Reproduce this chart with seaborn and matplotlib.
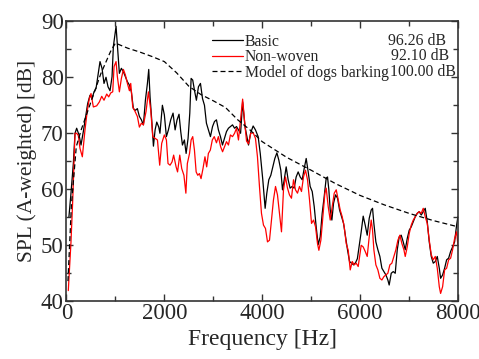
import numpy as np
import pandas as pd
import matplotlib
matplotlib.use("Agg")
import matplotlib.pyplot as plt
import matplotlib.font_manager as fm
import seaborn as sns
from matplotlib.ticker import MultipleLocator

# ---------------- data ----------------
basic_freq = [50, 90, 140, 174, 208, 256, 297, 344, 392, 433, 481, 522, 563, 604, 645, 685, 726, 767,
              808, 849, 890, 931, 958, 1013, 1047, 1081, 1122, 1163, 1204, 1245, 1286, 1326, 1367, 1408,
              1449, 1490, 1531, 1572, 1613, 1654, 1681, 1708, 1742, 1777, 1811, 1845, 1886, 1910, 1960,
              2000, 2042, 2083, 2130, 2178, 2220, 2260, 2300, 2335, 2370, 2410, 2445, 2485, 2520, 2547,
              2580, 2615, 2655, 2697, 2738, 2780, 2820, 2860, 2900, 2942, 2985, 3025, 3065, 3105, 3147,
              3188, 3230, 3270, 3310, 3350, 3393, 3435, 3475, 3515, 3558, 3600, 3650, 3720, 3765, 3815,
              3862, 3917, 3960, 4012, 4060, 4094, 4135, 4176, 4217, 4258, 4300, 4340, 4380, 4415, 4450,
              4490, 4530, 4570, 4612, 4653, 4694, 4735, 4776, 4817, 4858, 4899, 4940, 4980, 5022, 5063,
              5103, 5144, 5185, 5226, 5267, 5308, 5335, 5362, 5390, 5424, 5458, 5499, 5540, 5581, 5622,
              5663, 5704, 5745, 5785, 5826, 5867, 5908, 5945, 5982, 6023, 6064, 6105, 6146, 6187, 6228,
              6255, 6282, 6323, 6364, 6405, 6446, 6487, 6528, 6568, 6595, 6637, 6678, 6719, 6760, 6800,
              6841, 6882, 6923, 6964, 7005, 7046, 7087, 7128, 7169, 7209, 7250, 7291, 7332, 7373, 7414,
              7455, 7496, 7537, 7578, 7619, 7646, 7687, 7728, 7769, 7810, 7851, 7891, 7932, 7973, 8000]
basic_spl = [55.0, 59.0, 64.5, 69.9, 70.8, 69.6, 67.8, 70.2, 72.9, 75.2, 76.7, 76.1, 77.3, 77.9, 80.3,
             82.7, 81.5, 78.8, 79.9, 78.2, 77.5, 80.0, 85.4, 89.0, 84.8, 80.6, 81.5, 80.9, 80.0, 79.1,
             78.5, 77.3, 74.3, 74.0, 74.3, 72.9, 72.3, 71.4, 75.8, 78.8, 81.3, 76.4, 72.3, 67.6, 70.5,
             71.9, 71.0, 69.9, 74.9, 73.2, 69.3, 70.5, 72.3, 73.5, 70.5, 72.3, 73.3, 70.2, 67.8, 68.7,
             66.3, 69.0, 73.5, 79.7, 79.4, 77.6, 75.8, 78.2, 78.8, 76.1, 74.9, 71.7, 70.5, 69.3, 71.1,
             72.0, 72.3, 70.5, 69.3, 67.8, 69.0, 70.2, 70.8, 71.1, 71.4, 70.8, 71.1, 70.5, 69.9, 75.5,
             71.0, 67.8, 70.0, 71.2, 70.5, 69.3, 66.3, 61.6, 56.5, 59.2, 61.6, 62.4, 63.9, 65.4, 66.4,
             65.1, 63.3, 59.8, 61.6, 63.9, 61.6, 60.1, 60.4, 60.1, 62.1, 63.0, 62.1, 61.6, 63.6, 65.4,
             63.0, 60.4, 59.5, 56.8, 53.2, 50.0, 51.4, 55.6, 58.6, 61.9, 62.1, 59.8, 56.2, 54.4, 57.4,
             58.9, 58.3, 56.2, 55.0, 53.8, 51.4, 49.0, 47.0, 46.7, 46.4, 46.8, 47.5, 49.8, 52.3, 55.1,
             53.5, 51.7, 54.7, 56.2, 56.5, 53.8, 50.5, 49.1, 47.9, 45.8, 45.2, 44.6, 43.7, 42.8, 44.9,
             45.2, 44.9, 49.1, 51.4, 51.7, 50.5, 49.1, 51.1, 52.6, 53.2, 54.1, 55.0, 55.6, 55.9, 55.3,
             55.9, 56.5, 54.1, 50.5, 47.9, 46.7, 47.0, 47.9, 45.8, 44.0, 44.6, 45.8, 47.3, 47.6, 48.8,
             49.6, 50.5, 53.5, 55.0]

nonwoven_freq = [37, 92, 127, 174, 208, 242, 276, 324, 378, 426, 467, 501, 549, 617, 672, 720, 767, 822,
                 863, 904, 945, 972, 1013, 1040, 1081, 1122, 1163, 1204, 1245, 1286, 1313, 1354, 1401,
                 1449, 1490, 1531, 1572, 1626, 1674, 1722, 1763, 1811, 1859, 1905, 1946, 2000, 2042,
                 2075, 2117, 2158, 2190, 2240, 2270, 2315, 2355, 2400, 2440, 2470, 2515, 2547, 2580,
                 2615, 2650, 2683, 2717, 2750, 2790, 2830, 2865, 2900, 2940, 2980, 3020, 3065, 3105,
                 3150, 3190, 3230, 3270, 3310, 3350, 3393, 3435, 3475, 3515, 3558, 3600, 3640, 3680,
                 3720, 3765, 3815, 3862, 3903, 3944, 3985, 4026, 4067, 4108, 4149, 4190, 4230, 4272,
                 4312, 4353, 4394, 4435, 4476, 4517, 4557, 4598, 4640, 4680, 4721, 4762, 4803, 4844,
                 4885, 4926, 4967, 5008, 5049, 5090, 5130, 5158, 5199, 5240, 5281, 5308, 5349, 5390,
                 5431, 5472, 5513, 5553, 5594, 5635, 5676, 5717, 5758, 5799, 5840, 5880, 5921, 5962,
                 6023, 6064, 6105, 6146, 6187, 6228, 6255, 6282, 6323, 6364, 6405, 6446, 6487, 6528,
                 6568, 6609, 6650, 6691, 6732, 6773, 6814, 6855, 6896, 6923, 6964, 7005, 7046, 7087,
                 7128, 7169, 7209, 7250, 7291, 7332, 7373, 7414, 7455, 7496, 7537, 7578, 7619, 7646,
                 7687, 7728, 7769, 7810, 7851, 7891, 7932, 7973, 8000]
nonwoven_spl = [41.8, 50.5, 57.8, 69.9, 69.9, 69.5, 67.2, 65.7, 70.5, 74.0, 76.1, 77.0, 74.6, 74.8, 75.5,
                76.5, 75.8, 76.9, 76.4, 77.1, 77.3, 81.8, 82.7, 80.0, 77.3, 79.7, 81.3, 80.3, 78.8, 77.5,
                78.8, 74.6, 73.8, 72.9, 71.0, 71.7, 71.4, 73.8, 77.3, 74.0, 69.3, 69.0, 68.7, 64.2, 68.1,
                69.6, 68.7, 64.5, 64.2, 64.8, 66.0, 63.9, 63.0, 66.0, 63.6, 62.4, 59.2, 64.5, 66.3, 68.7,
                69.3, 66.9, 63.0, 62.4, 62.7, 61.8, 63.6, 65.7, 63.9, 66.3, 66.9, 68.7, 69.3, 68.2, 69.3,
                67.5, 66.6, 67.5, 68.4, 67.8, 69.6, 69.3, 69.9, 70.8, 68.7, 72.3, 76.0, 72.0, 68.5, 68.0,
                69.9, 70.0, 69.0, 65.7, 60.4, 55.6, 53.5, 52.9, 50.5, 50.8, 54.4, 58.0, 60.4, 58.9, 55.6,
                52.3, 59.8, 62.1, 60.1, 58.9, 58.3, 61.6, 59.8, 59.2, 60.4, 59.5, 62.1, 63.3, 61.6, 58.0,
                53.8, 54.4, 53.2, 50.2, 49.0, 50.8, 55.0, 59.2, 60.1, 56.8, 54.4, 56.8, 59.2, 59.8, 58.0,
                56.2, 55.0, 53.2, 50.2, 49.0, 45.5, 47.0, 46.4, 46.7, 46.1, 49.9, 49.6, 48.8, 47.9, 51.4,
                54.4, 52.6, 49.1, 46.4, 45.5, 44.0, 43.7, 44.3, 44.6, 44.9, 46.4, 46.7, 47.9, 49.1, 50.8,
                51.7, 50.2, 49.1, 47.9, 49.6, 52.0, 53.5, 54.4, 55.0, 55.6, 55.9, 55.6, 56.5, 55.0, 53.8,
                50.8, 48.2, 47.3, 47.9, 45.8, 42.5, 41.3, 42.5, 45.5, 45.8, 47.3, 47.6, 49.1, 51.1, 52.3,
                49.9]

model_freq = [30, 100, 200, 300, 400, 500, 600, 700, 800, 900, 1000, 1250, 1500, 1750, 2000, 2250,
              2500, 2750, 3000, 3250, 3500, 3750, 4000, 4500, 5000, 5500, 6000, 6500, 7000, 7500, 8000]
model_spl = [43.5, 57.0, 67.5, 70.5, 73.0, 75.5, 78.0, 80.5, 82.5, 84.5, 86.0, 85.1, 84.4, 83.6, 82.7,
             80.7, 78.3, 76.8, 75.7, 74.5, 72.3, 70.5, 68.4, 65.6, 63.3, 60.9, 58.8, 57.1, 55.6, 54.3,
             53.2]

series_names = ["Basic", "Non-woven", "Model of dogs barking"]
series_levels = [96.26, 92.10, 100.00]
x_ticks = [0, 2000, 4000, 6000, 8000]
y_ticks = [40, 50, 60, 70, 80, 90]

# ---------------- font: find a Times-like serif ----------------
serif_family = None
for path in fm.findSystemFonts():
    low = path.lower().replace("-", "").replace("_", "")
    if "liberationserifregular" in low:
        try:
            fm.fontManager.addfont(path)
            serif_family = fm.FontProperties(fname=path).get_name()
        except Exception:
            pass
        break
if serif_family is None:
    avail = {f.name for f in fm.fontManager.ttflist}
    for cand in ["Liberation Serif", "Times New Roman", "Tinos", "Nimbus Roman", "DejaVu Serif"]:
        if cand in avail:
            serif_family = cand
            break

# ---------------- style ----------------
sns.set_style("ticks")
plt.rcParams["font.family"] = [serif_family or "serif", "DejaVu Serif"]
plt.rcParams["xtick.direction"] = "in"
plt.rcParams["ytick.direction"] = "in"

fig = plt.figure(figsize=(4.79, 3.59), dpi=100)
ax = fig.add_axes([0.1388, 0.1624, 0.8172, 0.7799])

df_b = pd.DataFrame({"f": basic_freq, "spl": basic_spl})
df_n = pd.DataFrame({"f": nonwoven_freq, "spl": nonwoven_spl})
df_m = pd.DataFrame({"f": model_freq, "spl": model_spl})

sns.lineplot(data=df_b, x="f", y="spl", ax=ax, color="black", lw=0.9, estimator=None,
             label=series_names[0])
sns.lineplot(data=df_n, x="f", y="spl", ax=ax, color="#ff0000", lw=0.9, estimator=None,
             label=series_names[1])
sns.lineplot(data=df_m, x="f", y="spl", ax=ax, color="black", lw=0.9, estimator=None,
             label=series_names[2])
ax.lines[2].set_dashes((4.0, 2.4))

ax.set_xlim(0, 8000)
ax.set_ylim(40, 90)
ax.set_xticks(x_ticks)
ax.set_yticks(y_ticks)
ax.xaxis.set_minor_locator(MultipleLocator(1000))
ax.yaxis.set_minor_locator(MultipleLocator(5))
ax.tick_params(which="both", direction="in", top=True, right=True, width=1.0, color="#333333",
               labelsize=16.5, pad=2)
ax.tick_params(which="major", length=5)
ax.tick_params(which="minor", length=3.5)
for s in ax.spines.values():
    s.set_linewidth(1.2)
    s.set_color("#333333")

ax.set_xlabel("Frequency [Hz]", fontsize=17, labelpad=3)
ax.set_ylabel("SPL (A-weighted) [dB]", fontsize=15.5, labelpad=3)

leg = ax.legend(loc="upper left", bbox_to_anchor=(0.372, 0.954), frameon=False, fontsize=11.3,
                handlelength=2.0, handletextpad=0.1, labelspacing=-0.02, borderaxespad=0,
                borderpad=0)
leg_rows_y = [0.928, 0.873, 0.817]
leg_rows_x = [0.970, 0.977, 0.995]
for lvl, yy, xx in zip(series_levels, leg_rows_y, leg_rows_x):
    ax.text(xx, yy, f"{lvl:.2f} dB", transform=ax.transAxes, ha="right", va="center",
            fontsize=11.3)

fig.savefig("out.png", dpi=100)
